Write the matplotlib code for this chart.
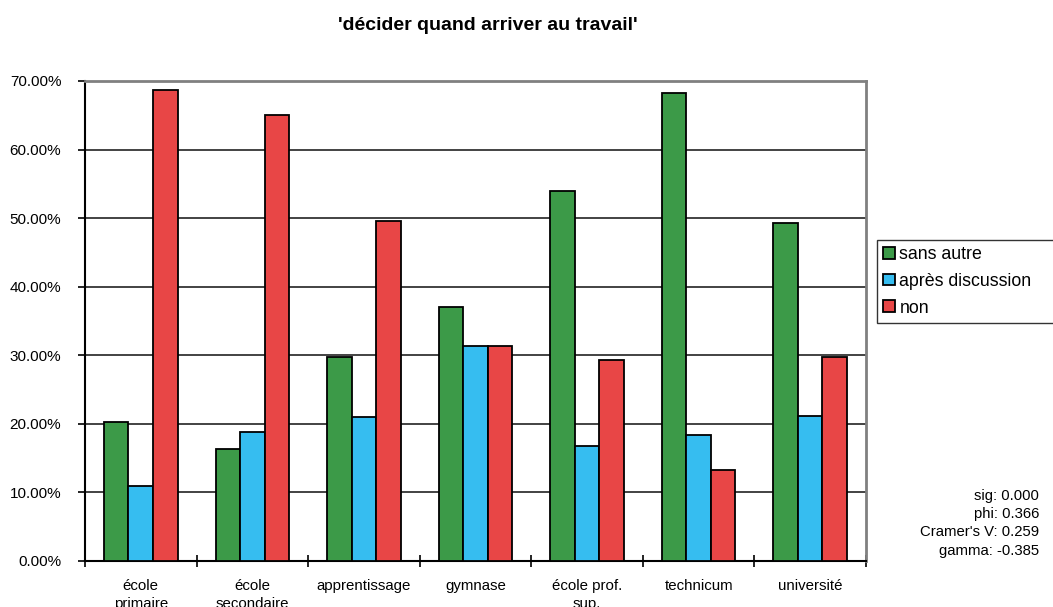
import numpy as np
import matplotlib.pyplot as plt
from matplotlib.ticker import FuncFormatter, FixedLocator

plt.rcParams['font.family'] = ['Liberation Sans', 'DejaVu Sans']

categories = ['école\nprimaire', 'école\nsecondaire', 'apprentissage', 'gymnase',
              'école prof.\nsup.', 'technicum', 'université']
sans_autre = [20.3, 16.3, 29.7, 37.1, 54.0, 68.3, 49.3]
apres_discussion = [10.9, 18.8, 21.0, 31.4, 16.8, 18.3, 21.2]
non = [68.7, 65.1, 49.6, 31.4, 29.3, 13.3, 29.7]
series_names = ['sans autre', 'après discussion', 'non']
colors = ['#3c9a48', '#36bdf0', '#e84646']
stats_text = "sig: 0.000\nphi: 0.366\nCramer's V: 0.259\ngamma: -0.385"

fig = plt.figure(figsize=(10.53, 6.07), dpi=100)
ax = fig.add_axes([0.0807, 0.0758, 0.7417, 0.7908])

x = np.arange(len(categories))
w = 0.22
for i, (vals, name) in enumerate(zip([sans_autre, apres_discussion, non], series_names)):
    ax.bar(x + (i - 1) * w, vals, w, color=colors[i], edgecolor='black',
           linewidth=1.3, label=name, zorder=3)

ax.set_xlim(-0.5, len(categories) - 0.5)
ax.set_ylim(0, 70)
ax.set_yticks(np.arange(0, 71, 10))
ax.yaxis.set_major_formatter(FuncFormatter(lambda v, p: f'{v:.2f}%'))
ax.yaxis.grid(True, color='#222222', linewidth=1.2, zorder=0)

ax.set_xticks(x)
ax.set_xticklabels(categories, fontsize=10.8, linespacing=1.35)
ax.tick_params(axis='x', length=0, pad=13)
ax.xaxis.set_minor_locator(FixedLocator(np.arange(-0.5, len(categories), 1)))
ax.tick_params(axis='x', which='minor', direction='inout', length=9, width=1.2)
ax.tick_params(axis='y', direction='out', length=5, width=1.2, labelsize=11, pad=12)

for s in ['top', 'right']:
    ax.spines[s].set_color('#808080')
    ax.spines[s].set_linewidth(2)
for s in ['left', 'bottom']:
    ax.spines[s].set_color('black')
    ax.spines[s].set_linewidth(1.5)

fig.text(0.463, 0.958, "'décider quand arriver au travail'", ha='center', va='center',
         fontsize=14, fontweight='bold')

leg = fig.legend(loc='upper left', bbox_to_anchor=(0.833, 0.0, 0.18, 0.605),
                 mode='expand', fontsize=12.8,
                 frameon=True, fancybox=False, edgecolor='black', handlelength=0.65,
                 handleheight=0.65, handletextpad=0.25, borderpad=0.35, labelspacing=0.55,
                 borderaxespad=0)
leg.get_frame().set_linewidth(1)

fig.text(0.987, 0.138, stats_text, ha='right', va='center', fontsize=10.7, linespacing=1.4)

fig.savefig('out.png', dpi=100)
